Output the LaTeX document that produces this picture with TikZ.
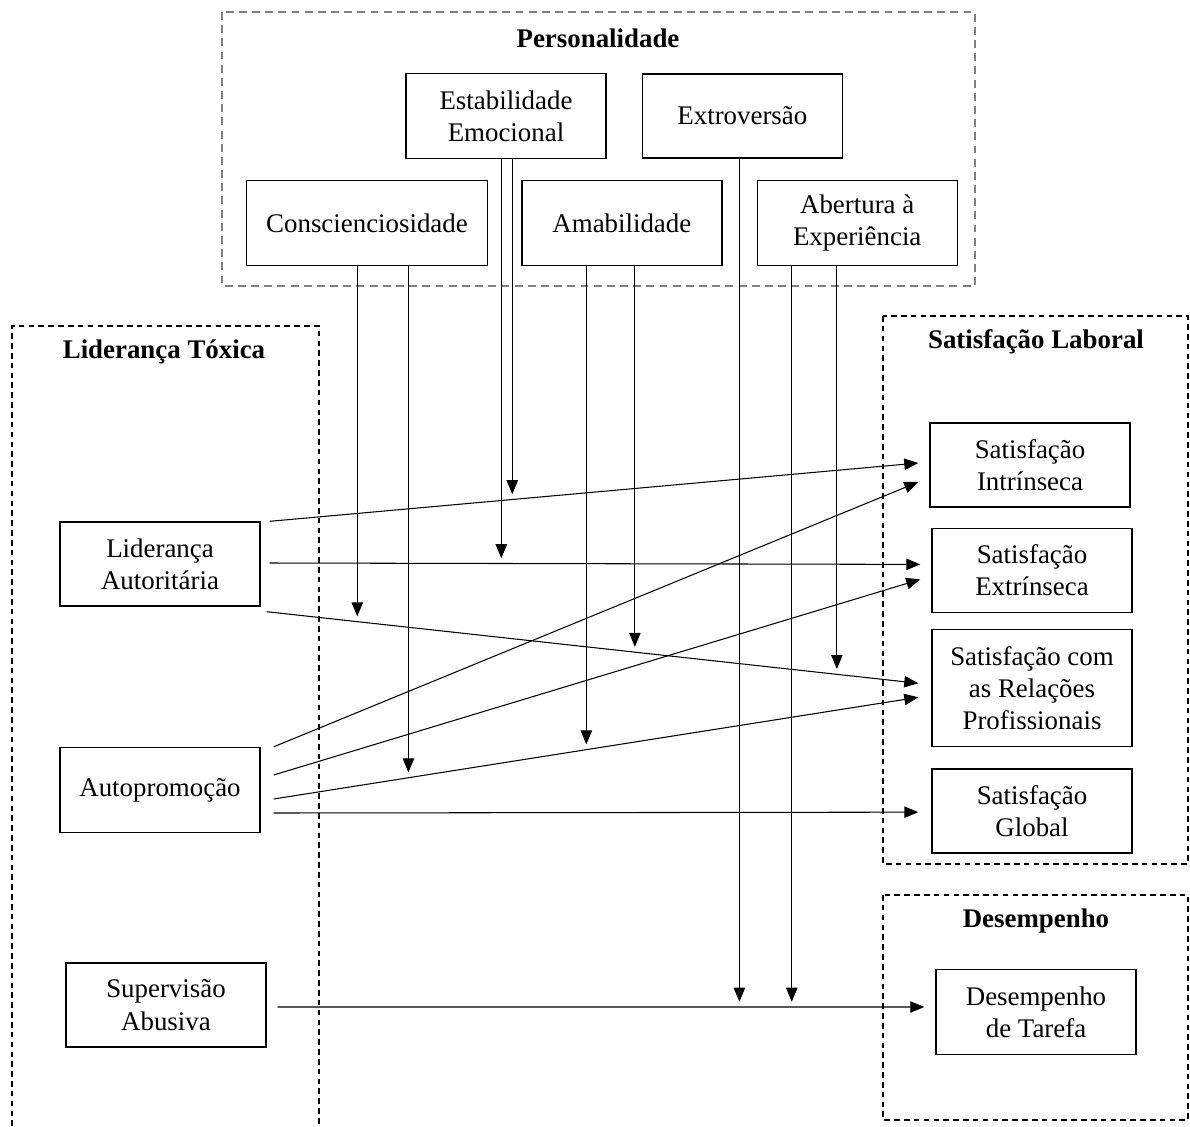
\documentclass[tikz,border=0pt]{standalone}
\usepackage{fontspec}
\setmainfont{Liberation Serif}
\usetikzlibrary{positioning,arrows.meta}

\tikzset{
	box/.style={draw,line width=0.8pt,align=center,minimum width=4cm,minimum height=1.7cm,inner sep=2pt},
	frame/.style={draw,dash pattern=on 3.2pt off 2.4pt,line width=0.6pt},
	title/.style={font=\fontsize{15.3}{18.4}\selectfont\bfseries},
	arr/.style={-{Triangle[length=8pt,width=6.5pt]},line width=0.6pt},
}

\begin{document}
	\begin{tikzpicture}[x=0.02cm,y=-0.02cm,font=\fontsize{15.3}{18.4}\selectfont]
		\useasboundingbox (0,0) rectangle (1190,1126);
		% frames
		\draw[frame,gray,line width=1pt,dash pattern=on 4.5pt off 3pt] (222,12) rectangle (975,286);
		\draw[frame] (12,1126) -- (12,326) -- (319,326) -- (319,1126);
		\draw[frame] (883,316) rectangle (1188,864);
		\draw[frame] (883,895) rectangle (1188,1120);
		\node(tpers) [title] at (598,38) {Personalidade};
		\node(tlid) [title] at (164,352) {Liderança Tóxica};
		\node(tsat) [title] at (1036,342) {Satisfação Laboral};
		\node(tdes) [title] at (1036,921) {Desempenho};
		% personalidade
		\node(est) [box] at (506,116) {Estabilidade\\Emocional};
		\node(ext) [right=0.7cm of est,box,minimum height=1.68cm] {Extroversão};
		\node(con) [box,minimum width=4.82cm] at (367,223) {Conscienciosidade};
		\node(ama) [right=0.66cm of con,box] {Amabilidade};
		\node(abe) [right=0.68cm of ama,box] {Abertura à\\Experiência};
		% lideranca
		\node(la) [box,minimum height=1.68cm] at (160,564) {Liderança\\Autoritária};
		\node(ap) [box] at (160,790) {Autopromoção};
		\node(sa) [box,minimum height=1.68cm] at (166,1005) {Supervisão\\Abusiva};
		% satisfacao e desempenho
		\node(si) [box,minimum height=1.68cm] at (1030,465) {Satisfação\\Intrínseca};
		\node(se) [below=0.4cm of si.south,anchor=north,xshift=0.04cm,box,minimum height=1.68cm] {Satisfação\\Extrínseca};
		\node(srp) [below=0.32cm of se.south,anchor=north,box,minimum height=2.34cm] {Satisfação com\\as Relações\\Profissionais};
		\node(sg) [below=0.42cm of srp.south,anchor=north,box,minimum height=1.68cm] {Satisfação\\Global};
		\node(dt) [box] at (1036,1012) {Desempenho\\de Tarefa};
		% efeitos directos
		\draw[arr] ([xshift=0.18cm]la.north east) -- coordinate[pos=0.374] (m1) ([xshift=-0.22cm,yshift=0.04cm]si.west);
		\draw[arr] ([xshift=0.18cm,yshift=0.02cm]la.east) -- coordinate[pos=0.356] (m2) ([xshift=-0.22cm,yshift=0.12cm]se.west);
		\draw[arr] ([xshift=0.12cm,yshift=-0.1cm]la.south east) -- coordinate[pos=0.139] (m3) coordinate[pos=0.565] (m4) coordinate[pos=0.875] (m5) ([xshift=-0.26cm,yshift=0.1cm]srp.west);
		\draw[arr] ([xshift=0.26cm]ap.north east) -- ([xshift=-0.22cm,yshift=-0.34cm]si.west);
		\draw[arr] ([xshift=0.26cm,yshift=0.3cm]ap.east) -- ([xshift=-0.22cm,yshift=-0.18cm]se.west);
		\draw[arr] ([xshift=0.26cm,yshift=-0.18cm]ap.east) -- coordinate[pos=0.209] (m6) coordinate[pos=0.485] (m7) ([xshift=-0.26cm,yshift=-0.18cm]srp.west);
		\draw[arr] ([xshift=0.26cm,yshift=-0.46cm]ap.east) -- ([xshift=-0.26cm,yshift=-0.02cm]sg.west);
		\draw[arr] ([xshift=0.22cm,yshift=-0.04cm]sa.east) -- coordinate[pos=0.714] (m8) coordinate[pos=0.795] (m9) ([xshift=-0.22cm,yshift=0.1cm]dt.west);
		% moderacao
		\path[arr,shorten >=3pt]
			(est.south -| m1) edge (m1)
			(est.south -| m2) edge (m2)
			(con.south -| m3) edge (m3)
			(con.south -| m6) edge (m6)
			(ama.south -| m7) edge (m7)
			(ama.south -| m4) edge (m4)
			(ext.south -| m8) edge (m8)
			(abe.south -| m9) edge (m9)
			(abe.south -| m5) edge (m5);
	\end{tikzpicture}
\end{document}
